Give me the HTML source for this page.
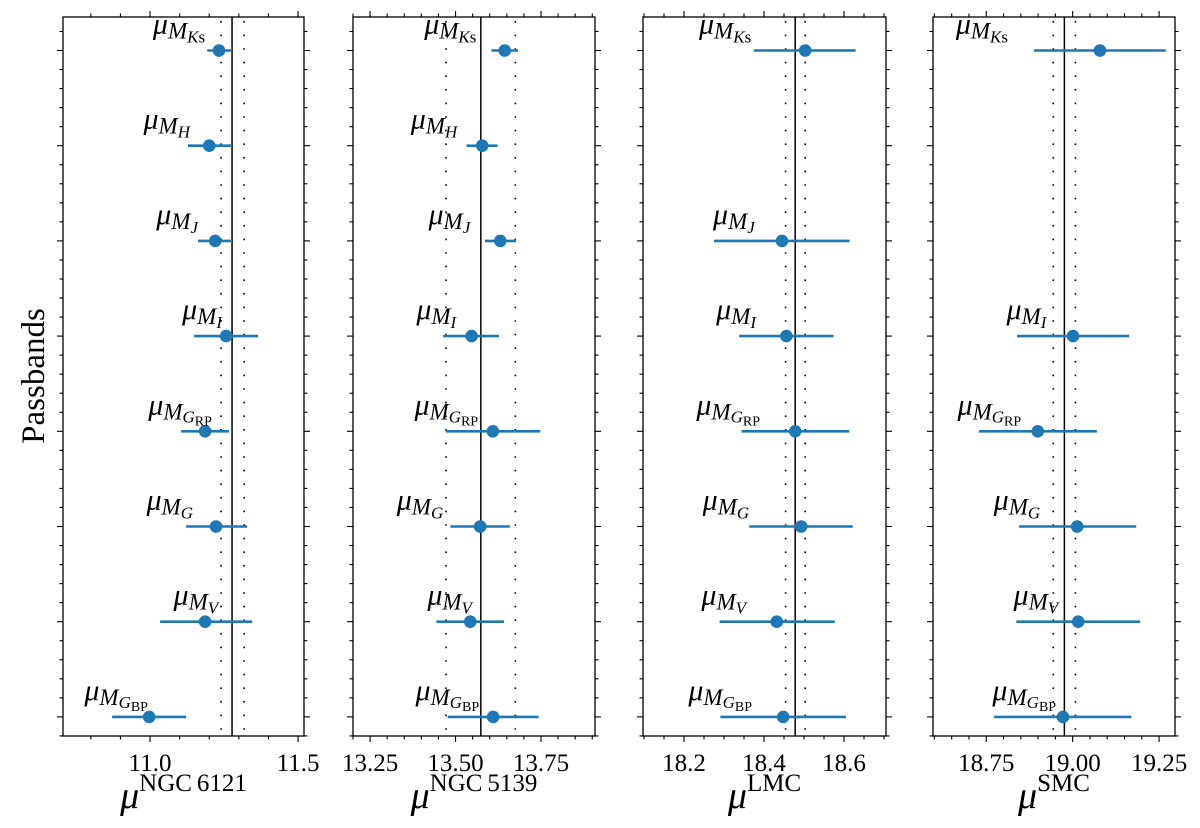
<!DOCTYPE html>
<html><head><meta charset="utf-8"><style>
html,body{margin:0;padding:0;background:#fff;}
svg{display:block;}
text{font-family:"Liberation Serif","DejaVu Serif",serif;fill:#000;}
</style></head><body>
<svg id="chart" width="1200" height="828" viewBox="0 0 1200 828" xmlns="http://www.w3.org/2000/svg">
<text transform="translate(44,376) rotate(-90)" text-anchor="middle" font-size="33">Passbands</text>
</svg>
<script>
const bands = ["Ks","H","J","I","GRP","G","V","GBP"];
// NGC 6121
const p1Val = [11.233,11.200,11.220,11.257,11.186,11.223,11.186,10.997];
const p1Lo  = [11.193,11.128,11.162,11.149,11.105,11.122,11.034,10.872];
const p1Hi  = [11.277,11.277,11.277,11.365,11.267,11.328,11.345,11.122];
const p1Lab = [11.186,11.135,11.162,11.243,11.209,11.145,11.230,10.993];
const p1Ref = [11.277,11.240,11.318];
const p1Ticks = [11.0,11.5];
const p1TickLabels = ["11.0","11.5"];
// NGC 5139
const p2Val = [13.644,13.578,13.631,13.547,13.609,13.572,13.543,13.610];
const p2Lo  = [13.605,13.532,13.586,13.464,13.472,13.485,13.444,13.477];
const p2Hi  = [13.683,13.623,13.677,13.627,13.748,13.659,13.642,13.743];
const p2Lab = [13.561,13.505,13.543,13.502,13.566,13.464,13.548,13.569];
const p2Ref = [13.574,13.472,13.675];
const p2Ticks = [13.25,13.50,13.75];
const p2TickLabels = ["13.25","13.50","13.75"];
// LMC
const p3Val = [18.503,null,18.445,18.456,18.478,18.493,18.432,18.448];
const p3Lo  = [18.375,null,18.275,18.338,18.344,18.363,18.289,18.291];
const p3Hi  = [18.629,null,18.614,18.574,18.613,18.622,18.577,18.605];
const p3Lab = [18.368,null,18.377,18.380,18.390,18.363,18.355,18.370];
const p3Ref = [18.478,18.454,18.503];
const p3Ticks = [18.2,18.4,18.6];
const p3TickLabels = ["18.2","18.4","18.6"];
// SMC
const p4Val = [19.079,null,null,19.001,18.899,19.013,19.016,18.972];
const p4Lo  = [18.888,null,null,18.839,18.729,18.845,18.837,18.773];
const p4Hi  = [19.269,null,null,19.163,19.070,19.184,19.195,19.170];
const p4Lab = [18.813,null,null,18.924,18.851,18.906,18.958,18.952];
const p4Ref = [18.976,18.944,19.008];
const p4Ticks = [18.75,19.00,19.25];
const p4TickLabels = ["18.75","19.00","19.25"];

const NS="http://www.w3.org/2000/svg";
const svg=document.getElementById('chart');
function mk(tag,attrs,parent){const e=document.createElementNS(NS,tag);for(const k in attrs)e.setAttribute(k,attrs[k]);(parent||svg).appendChild(e);return e;}

const TOP=17,BOT=736,ROW0=50.5,ROWH=95.2;
function yRow(i){return ROW0+i*ROWH;}

const panels=[
 {name:"ngc6121",left:63,right:304,min:10.706,max:11.520,minor:0.1,val:p1Val,lo:p1Lo,hi:p1Hi,lab:p1Lab,ref:p1Ref,ticks:p1Ticks,tl:p1TickLabels,sup:"NGC\u20096121"},
 {name:"ngc5139",left:353,right:595,min:13.200,max:13.908,minor:0.05,val:p2Val,lo:p2Lo,hi:p2Hi,lab:p2Lab,ref:p2Ref,ticks:p2Ticks,tl:p2TickLabels,sup:"NGC\u20095139"},
 {name:"lmc",left:643,right:886,min:18.0975,max:18.705,minor:0.05,val:p3Val,lo:p3Lo,hi:p3Hi,lab:p3Lab,ref:p3Ref,ticks:p3Ticks,tl:p3TickLabels,sup:"LMC"},
 {name:"smc",left:933,right:1175,min:18.596,max:19.296,minor:0.05,val:p4Val,lo:p4Lo,hi:p4Hi,lab:p4Lab,ref:p4Ref,ticks:p4Ticks,tl:p4TickLabels,sup:"SMC"}
];

function addLabel(g,band,xEnd,y){
  const t=mk('text',{x:xEnd,y:y,'text-anchor':'end','font-size':30,'font-style':'italic'},g);
  
  
  const s=(txt,attrs)=>{const ts=mk('tspan',attrs,t);ts.textContent=txt;return ts;};
  s('\u03bc',{});
  s('M',{'font-size':23,dy:5});
  if(band==='Ks'){s('K',{'font-size':17,dy:4});s('s',{'font-size':17,'font-style':'normal'});}
  else if(band==='GRP'){s('G',{'font-size':17,dy:3});s('RP',{'font-size':14,'font-style':'normal',dy:3});}
  else if(band==='GBP'){s('G',{'font-size':17,dy:3});s('BP',{'font-size':14,'font-style':'normal',dy:3});}
  else {s(band,{'font-size':17,dy:4});}
}

panels.forEach(p=>{
  const sx=v=>p.left+(v-p.min)/(p.max-p.min)*(p.right-p.left);
  const g=mk('g',{});
  
  
  const r0=mk('line',{x1:sx(p.ref[0]),x2:sx(p.ref[0]),y1:TOP,y2:BOT,stroke:'#000','stroke-width':1.5},g);
  
  
  [p.ref[1],p.ref[2]].forEach(v=>{
    const d=mk('line',{x1:sx(v),x2:sx(v),y1:TOP+4,y2:BOT,stroke:'#000','stroke-width':1.6,'stroke-dasharray':'1.6 12','stroke-linecap':'butt'},g);
    
    
  });
  bands.forEach((b,i)=>{
    if(p.val[i]==null)return;
    const y=yRow(i);
    const e=mk('line',{x1:sx(p.lo[i]),x2:sx(p.hi[i]),y1:y,y2:y,stroke:'#1f77b4','stroke-width':2.6},g);
    
    
    const c=mk('circle',{cx:sx(p.val[i]),cy:y,r:6.3,fill:'#1f77b4'},g);
    
    
    addLabel(g,b,sx(p.lab[i]),y-17);
  });
  const f=mk('rect',{x:p.left,y:TOP,width:p.right-p.left,height:BOT-TOP,fill:'none',stroke:'#000','stroke-width':1.3},g);
  
  
  const step=p.minor;
  const start=Math.ceil(p.min/step-1e-6);
  for(let k=start;k*step<=p.max+1e-9;k++){
    const v=k*step; const x=sx(v);
    const major=p.ticks.some(t=>Math.abs(t-v)<1e-6);
    const L=major?6:3.5;
    mk('line',{x1:x,x2:x,y1:BOT,y2:BOT+L,stroke:'#000','stroke-width':1.1},g);
    mk('line',{x1:x,x2:x,y1:TOP,y2:TOP-L,stroke:'#000','stroke-width':1.1},g);
  }
  p.ticks.forEach((v,j)=>{
    const t=mk('text',{x:sx(v),y:771,'text-anchor':'middle','font-size':25},g);
    t.textContent=p.tl[j];
    
    
  });
  for(let k=-1;k<=36;k++){
    const y=ROW0+k*ROWH/5; if(y<TOP-0.5||y>BOT+0.5)continue;
    const major=(k%5===0);
    const L=major?6:3.5;
    mk('line',{x1:p.left,x2:p.left-L,y1:y,y2:y,stroke:'#000','stroke-width':1.1},g);
    mk('line',{x1:p.right,x2:p.right+L,y1:y,y2:y,stroke:'#000','stroke-width':1.1},g);
  }
  const cx=(p.left+p.right)/2;
  const xt=mk('text',{x:cx,y:808,'text-anchor':'middle','font-size':38},g);
  
  
  const m=mk('tspan',{'font-style':'italic'},xt); m.textContent='\u03bc';
  const sp=mk('tspan',{'font-size':25,dy:-17},xt); sp.textContent=p.sup;
});
</script>
</body></html>
